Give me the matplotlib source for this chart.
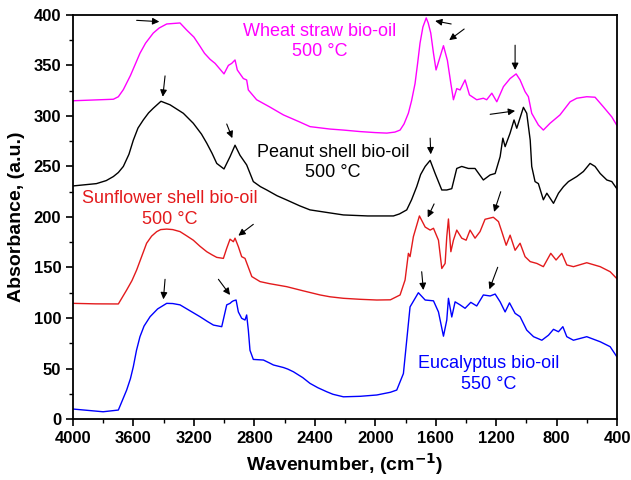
import matplotlib.pyplot as plt
from matplotlib.ticker import MultipleLocator

# wavenumber (cm-1) / absorbance
wheat_wn = [4000, 3733, 3700, 3667, 3620, 3557, 3520, 3469, 3430, 3380, 3292, 3248, 3200, 3160,
            3130, 3093, 3060, 3001, 2972, 2950, 2928, 2913, 2873, 2851, 2840, 2785, 2700, 2608,
            2500, 2432, 2300, 2211, 2100, 2000, 1924, 1870, 1836, 1810, 1781, 1760, 1737, 1720,
            1704, 1685, 1663, 1650, 1633, 1615, 1598, 1571, 1549, 1523, 1500, 1483, 1461, 1439,
            1406, 1377, 1329, 1285, 1263, 1229, 1196, 1152, 1108, 1068, 1042, 1009, 987, 965,
            921, 888, 844, 778, 711, 667, 601, 546, 491, 435, 402]
wheat_abs = [315, 316.5, 319, 326, 340, 362, 372, 382, 387, 391, 392, 385, 378, 369,
             362, 356, 352, 341.6, 350, 352, 355.4, 345.5, 337, 335.6, 325.7, 316, 309, 301,
             294, 289.4, 287, 286, 284.5, 283.5, 283, 284, 286, 292, 302.7, 315, 332, 352,
             372, 388, 397, 392, 382, 362, 345.5, 358.7, 369.5, 355, 332, 316, 327, 325.7,
             335.6, 320.8, 316, 317.5, 316, 322.5, 314, 329, 337, 341.6, 335.6, 324, 319, 302.6,
             291, 286, 292.7, 301, 314, 317.5, 319, 318.5, 309, 299, 290.7]

peanut_wn = [4000, 3845, 3780, 3733, 3700, 3667, 3630, 3601, 3570, 3535, 3500, 3469, 3418, 3358,
             3270, 3204, 3150, 3115, 3080, 3049, 3001, 2961, 2928, 2895, 2851, 2807, 2760, 2718,
             2650, 2586, 2500, 2432, 2300, 2211, 2050, 1880, 1840, 1792, 1760, 1726, 1700, 1670,
             1637, 1604, 1560, 1527, 1494, 1461, 1428, 1384, 1340, 1285, 1240, 1207, 1174, 1156,
             1141, 1108, 1082, 1064, 1020, 998, 975, 965, 943, 921, 888, 865, 821, 788, 755, 722,
             667, 623, 579, 546, 512, 468, 435, 402]
peanut_abs = [230.7, 233, 236, 240, 244, 250, 262, 276, 288, 296, 303, 307.6, 314.5, 311,
              302.6, 292.7, 282, 273, 263, 253, 247.5, 259.7, 271, 261, 251.5, 235, 230, 226.7,
              221, 216.8, 211, 207, 204, 202, 201, 201, 203, 207, 217, 230, 242, 250,
              256, 243, 226.7, 226.7, 228, 248, 250, 248, 248, 236.6, 241.6, 243, 259.7, 278,
              269.6, 283, 296, 287.8, 308.5, 302.6, 276, 250, 235, 233, 217, 223.5, 213.5, 223.5, 230, 235,
              240, 245, 253, 250, 243, 236.6, 235, 228]

sunflower_wn = [4000, 3850, 3700, 3645, 3610, 3579, 3513, 3480, 3446, 3420, 3380, 3340, 3292, 3250,
                3204, 3160, 3115, 3080, 3049, 3005, 2983, 2961, 2939, 2928, 2906, 2884, 2862, 2817,
                2762, 2700, 2586, 2480, 2365, 2300, 2211, 2100, 1990, 1900, 1836, 1803, 1781, 1770,
                1748, 1708, 1670, 1637, 1615, 1582, 1560, 1538, 1527, 1516, 1500, 1483, 1461, 1428,
                1399, 1373, 1340, 1307, 1274, 1219, 1185, 1163, 1134, 1108, 1075, 1042, 1009, 975,
                931, 888, 839, 804, 766, 733, 689, 601, 512, 446, 402]
sunflower_abs = [114.5, 114, 113.9, 127.7, 137, 147.5, 174, 181, 185.5, 187.5, 188, 187.5, 185.5, 181.5,
                 177, 171, 165.6, 162.5, 160, 159, 169, 178, 175.5, 179, 170.6, 160.7, 159, 141,
                 136, 134, 131, 127, 122.8, 121, 119.5, 118.5, 117.8, 118, 122.8, 137.6, 164, 160.7,
                 180.5, 201, 190, 187, 188.8, 177, 149, 154, 180.5, 198, 165.6, 177, 187, 179,
                 177, 187, 179, 185.5, 197.7, 199.7, 195.4, 185.5, 172, 182, 167, 174, 160.7, 155.8,
                 154, 150.8, 164, 157.4, 164, 152.5, 150.8, 154.7, 150.8, 145.8, 139]

euca_wn = [4000, 3801, 3700, 3645, 3620, 3601, 3580, 3557, 3530, 3490, 3440, 3380, 3340, 3292,
           3230, 3160, 3110, 3071, 3016, 2983, 2961, 2950, 2939, 2921, 2906, 2884, 2862, 2851,
           2840, 2829, 2807, 2740, 2700, 2674, 2608, 2580, 2542, 2480, 2432, 2380, 2321, 2280,
           2211, 2100, 1990, 1900, 1858, 1814, 1792, 1770, 1715, 1670, 1615, 1582, 1549, 1527,
           1516, 1494, 1472, 1439, 1406, 1368, 1329, 1285, 1240, 1207, 1174, 1141, 1112, 1075,
           1042, 998, 953, 898, 854, 821, 788, 759, 733, 689, 601, 512, 446, 402]
euca_abs = [9.9, 7.2, 8.9, 28.7, 40, 51.8, 68, 81.5, 92, 101.3, 109, 114.5, 114.3, 113,
            107.5, 101.3, 96.5, 93, 91.4, 113, 114.5, 116, 117, 117.8, 106, 99.7, 98, 103,
            88, 68, 59, 58.4, 55.5, 53.5, 51, 49.5, 46.8, 41, 35.3, 31, 27, 24.5,
            22, 22.5, 23.8, 26.5, 28.7, 45, 78, 111, 125, 117.8, 117, 106, 82, 98,
            119.5, 101, 116, 113, 109.6, 115.5, 111.9, 122.8, 121.8, 123.7, 116, 106, 115, 104.6,
            101.3, 88, 81.5, 78, 83, 88.8, 86.4, 91.4, 81.5, 78, 81.5, 76.5, 71.6, 61.7]

# arrows: (tail wn, tail abs, head wn, head abs)
arrows = [
    (3579, 394.6, 3429, 393.3), (1498, 391, 1604, 394), (1412, 386, 1511, 375), (1075, 370, 1075, 345.5),
    (3391, 339.6, 3406, 319), (2983, 292, 2946, 278), (1240, 301.6, 1075, 305), (1637, 278, 1633, 262),
    (2807, 192.7, 2906, 181.5), (1611, 212.9, 1653, 199.6), (1170, 225, 1214, 205),
    (3391, 138.3, 3402, 118.5), (3038, 138.3, 2961, 122.8), (1693, 145.8, 1682, 127.7), (1190, 150.2, 1245, 128.4),
]

plt.rcParams['font.family'] = ['Liberation Sans', 'DejaVu Sans']

fig = plt.figure(figsize=(6.31, 4.80), dpi=100)
ax = fig.add_axes([0.1157, 0.127, 0.8623, 0.842])

ax.plot(wheat_wn, wheat_abs, color='#ff00ff', lw=1.0)
ax.plot(peanut_wn, peanut_abs, color='black', lw=1.0)
ax.plot(sunflower_wn, sunflower_abs, color='#e31a1c', lw=1.0)
ax.plot(euca_wn, euca_abs, color='#0000ff', lw=1.0)

for x0, y0, x1, y1 in arrows:
    ax.annotate('', xy=(x1, y1), xytext=(x0, y0),
                arrowprops=dict(arrowstyle='-|>', color='black', lw=0.8, mutation_scale=10,
                                shrinkA=0, shrinkB=0))

lab = dict(fontsize=13, ha='center', va='center', linespacing=1.25)
ax.text(2365, 374, 'Wheat straw bio-oil\n500 °C', color='#ff00ff', **lab)
ax.text(2280, 254, 'Peanut shell bio-oil\n500 °C', color='black', **lab)
ax.text(3358, 208, 'Sunflower shell bio-oil\n500 °C', color='#e31a1c', **lab)
ax.text(1253, 44.5, 'Eucalyptus bio-oil\n550 °C', color='#0000ff', **lab)

ax.set_xlim(4000, 400)
ax.set_ylim(0, 400)
ax.xaxis.set_major_locator(MultipleLocator(400))
ax.xaxis.set_minor_locator(MultipleLocator(200))
ax.yaxis.set_major_locator(MultipleLocator(50))
ax.yaxis.set_minor_locator(MultipleLocator(25))
ax.tick_params(which='major', length=5, width=1.2, labelsize=12)
ax.tick_params(which='minor', length=3, width=1.0)
for lbl in ax.get_xticklabels() + ax.get_yticklabels():
    lbl.set_fontweight('bold')
for s in ax.spines.values():
    s.set_linewidth(1.3)

ax.set_xlabel('Wavenumber, (cm$^{\\mathbf{-1}}$)', fontsize=14, fontweight='bold', labelpad=4)
ax.set_ylabel('Absorbance, (a.u.)', fontsize=14, fontweight='bold', labelpad=6)

fig.savefig('out.png', dpi=100)
